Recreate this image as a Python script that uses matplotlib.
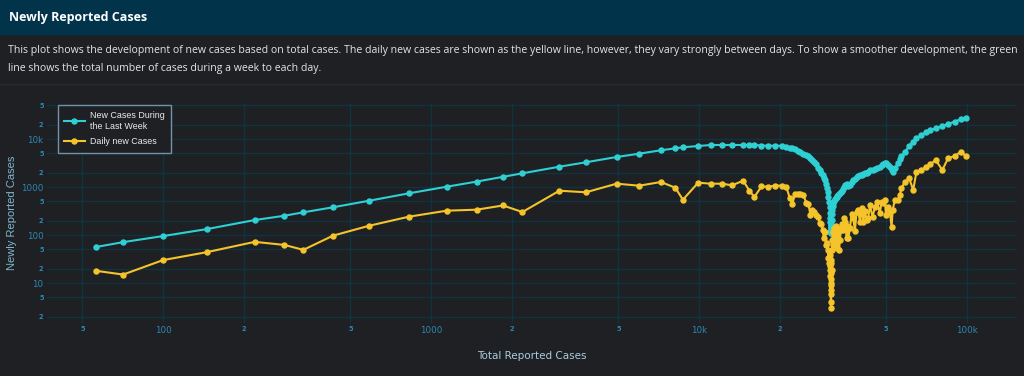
import matplotlib
matplotlib.use("Agg")
import matplotlib.pyplot as plt
from matplotlib.patches import Rectangle
from matplotlib.lines import Line2D
from matplotlib.ticker import FixedLocator, FixedFormatter

# data (one point per reported day)
total_cases = [
    56, 71, 100, 146, 220, 284, 334, 431, 588, 828,
    1145, 1481, 1857, 2193, 3015, 3787, 4929, 5986, 7211, 8166,
    8710, 9936, 11060, 12180, 13280, 14630, 15430, 16100, 17110, 18140,
    19210, 20350, 21210, 21830, 22290, 22820, 23410, 23920, 24540, 25180,
    25630, 26060, 26400, 26860, 27330, 27870, 28270, 28640, 28940, 29220,
    29520, 29780, 30030, 30240, 30420, 30580, 30710, 30820, 30900, 30950,
    31000, 31020, 31050, 31080, 31100, 31110, 31120, 31140, 31170, 31200,
    31250, 31350, 31480, 31620, 31780, 31950, 32170, 32390, 32620, 32820,
    33090, 33330, 33580, 33880, 34170, 34560, 34910, 35210, 35590, 35820,
    36130, 36600, 37130, 37640, 38200, 38740, 39300, 39870, 40460, 41040,
    41620, 42250, 42850, 43450, 44460, 45350, 46260, 47340, 48040, 48790,
    49420, 49850, 50840, 51590, 52350, 52830, 53850, 55380, 56140, 56970,
    58700, 60900, 63020, 64830, 67670, 70340, 72900, 76400, 81000, 85000,
    90000, 95000, 99000,
]
weekly_cases = [
    56, 71, 95, 133, 205, 252, 297, 378, 518, 739,
    1014, 1296, 1632, 1928, 2648, 3273, 4217, 4943, 5820, 6400,
    6720, 7150, 7500, 7500, 7500, 7500, 7500, 7500, 7320, 7250,
    7250, 7220, 6700, 6490, 6370, 6130, 5760, 5430, 4970, 4600,
    4330, 3930, 3650, 3320, 2950, 2490, 2210, 1960, 1740, 1540,
    1370, 1155, 953, 787, 620, 487, 383, 286, 226, 187,
    154, 134, 120, 110, 110, 115, 127, 140, 154, 169,
    205, 274, 332, 402, 465, 510, 560, 590, 620, 649,
    680, 715, 750, 787, 826, 910, 1000, 1080, 1155, 1100,
    1050, 1100, 1270, 1400, 1500, 1610, 1690, 1740, 1800, 1870,
    1960, 2000, 2100, 2210, 2300, 2400, 2530, 2670, 2880, 3000,
    3100, 3100, 2880, 2610, 2260, 2100, 2490, 3170, 3830, 4330,
    5360, 7150, 8870, 10300, 12100, 13700, 15200, 16700, 18700, 20500,
    23100, 25700, 27600,
]
daily_cases = [
    18, 15, 30, 44, 72, 62, 49, 97, 156, 241,
    321, 337, 412, 301, 837, 776, 1172, 1065, 1271, 966,
    543, 1230, 1172, 1172, 1085, 1351, 837, 619, 1025, 1014,
    1065, 1070, 980, 590, 442, 700, 715, 700, 670, 465,
    442, 260, 332, 301, 260, 237, 174, 169, 127, 87,
    115, 62, 68, 49, 33, 26, 38, 19, 14, 23,
    10, 7, 16, 4, 12, 3, 9, 30, 6, 26,
    19, 49, 79, 115, 62, 140, 87, 154, 54, 115,
    140, 49, 79, 127, 169, 127, 226, 187, 87, 154,
    87, 140, 274, 226, 121, 301, 332, 187, 365, 187,
    316, 205, 226, 420, 237, 383, 487, 287, 487, 465,
    536, 260, 383, 301, 147, 332, 536, 536, 680, 953,
    1270, 1520, 866, 2080, 2260, 2650, 2960, 3650, 2260, 3960,
    4420, 5430, 4420,
]

x_major = [100, 1000, 10000, 100000]
x_major_labels = ["100", "1000", "10k", "100k"]
x_minor = [50, 200, 500, 2000, 5000, 20000, 50000]
x_minor_labels = ["5", "2", "5", "2", "5", "2", "5"]
y_major = [10, 100, 1000, 10000]
y_major_labels = ["10", "100", "1000", "10k"]
y_minor = [2, 5, 20, 50, 200, 500, 2000, 5000, 20000, 50000]
y_minor_labels = ["2", "5"] * 5

title = "Newly Reported Cases"
desc1 = ("This plot shows the development of new cases based on total cases. "
         "The daily new cases are shown as the yellow line, however, they vary "
         "strongly between days. To show a smoother development, the green")
desc2 = "line shows the total number of cases during a week to each day."

BG = "#1f2023"
HEADER = "#01344b"
GRID = "#0e3442"
TICK = "#2b88b2"
CYAN = "#2fd0d4"
YELLOW = "#f4c42a"

W, H = 1024, 376
fig = plt.figure(figsize=(W / 100, H / 100), dpi=100)
fig.patch.set_facecolor(BG)

# header bar + description
fig.add_artist(Rectangle((0, 1 - 34 / H), 1, 34 / H, transform=fig.transFigure,
                         color=HEADER, zorder=0))
t_title = fig.text(9 / W, 1 - 17 / H, title, color="white", fontsize=10.5,
                   fontweight="bold", family="Open Sans", va="center")
t_d1 = fig.text(8 / W, 1 - 51 / H, desc1, color="#e4e4e4", fontsize=8.5,
                family="Open Sans", va="center")
t_d2 = fig.text(8 / W, 1 - 68 / H, desc2, color="#e4e4e4", fontsize=8.5,
                family="Open Sans", va="center")
fig.add_artist(Line2D([0, 1], [1 - 83.5 / H] * 2, transform=fig.transFigure,
                      color="#2a2b2f", lw=1))

# plot area
ax = fig.add_axes([47 / W, 1 - 323 / H, 970 / W, 219 / H])
ax.set_facecolor(BG)
for s in ax.spines.values():
    s.set_visible(False)

ax.plot(total_cases, weekly_cases, color=CYAN, lw=1.5, marker="o", ms=3.6,
        label="New Cases During\nthe Last Week", zorder=3)
ax.plot(total_cases, daily_cases, color=YELLOW, lw=1.5, marker="o", ms=3.6,
        label="Daily new Cases", zorder=4)

ax.set_xscale("log")
ax.set_yscale("log")
ax.set_xlim(36.9, 153800)
ax.set_ylim(1.468, 53600)

ax.xaxis.set_major_locator(FixedLocator(x_major))
ax.xaxis.set_major_formatter(FixedFormatter(x_major_labels))
ax.xaxis.set_minor_locator(FixedLocator(x_minor))
ax.xaxis.set_minor_formatter(FixedFormatter(x_minor_labels))
ax.yaxis.set_major_locator(FixedLocator(y_major))
ax.yaxis.set_major_formatter(FixedFormatter(y_major_labels))
ax.yaxis.set_minor_locator(FixedLocator(y_minor))
ax.yaxis.set_minor_formatter(FixedFormatter(y_minor_labels))

ax.tick_params(which="major", length=0, labelsize=6.3, colors=TICK)
ax.tick_params(which="minor", length=0, labelsize=4.8, colors=TICK)
ax.tick_params(axis="x", which="both", pad=2)
ax.tick_params(axis="y", which="both", pad=2.5)
for lab in ax.get_xticklabels(minor=True) + ax.get_yticklabels(minor=True):
    lab.set_fontweight("bold")
ax.grid(True, which="both", color=GRID, lw=1, zorder=0)
ax.set_axisbelow(True)

t_xl = fig.text(532 / W, 1 - 356 / H, "Total Reported Cases", color="#a9cde0",
                fontsize=7.2, ha="center", va="center")
t_yl = fig.text(12 / W, 1 - 213 / H, "Newly Reported Cases", color="#82b7d1",
                fontsize=7.2, ha="center", va="center", rotation=90,
                family="Liberation Sans")

leg = ax.legend(loc="upper left", bbox_to_anchor=(11 / 970, 218 / 219),
                borderaxespad=0, frameon=True, fancybox=False,
                facecolor=BG, edgecolor="#7292ab", framealpha=1,
                prop={"family": "Liberation Sans", "size": 6.4},
                handlelength=2.3, handletextpad=0.6, labelspacing=0.75,
                borderpad=0.7)
leg.get_frame().set_linewidth(1)
for t in leg.get_texts():
    t.set_color("#ececec")

# fit text widths to the reference
fig.canvas.draw()
r = fig.canvas.get_renderer()
for t, target in [(t_title, 139), (t_d1, 1004), (t_xl, 108)]:
    w = t.get_window_extent(r).width
    t.set_fontsize(t.get_fontsize() * target / w)
h = t_yl.get_window_extent(r).height
t_yl.set_fontsize(t_yl.get_fontsize() * 113 / h)
t_d2.set_fontsize(t_d1.get_fontsize())

fig.savefig("out.png", dpi=100, facecolor=BG)
